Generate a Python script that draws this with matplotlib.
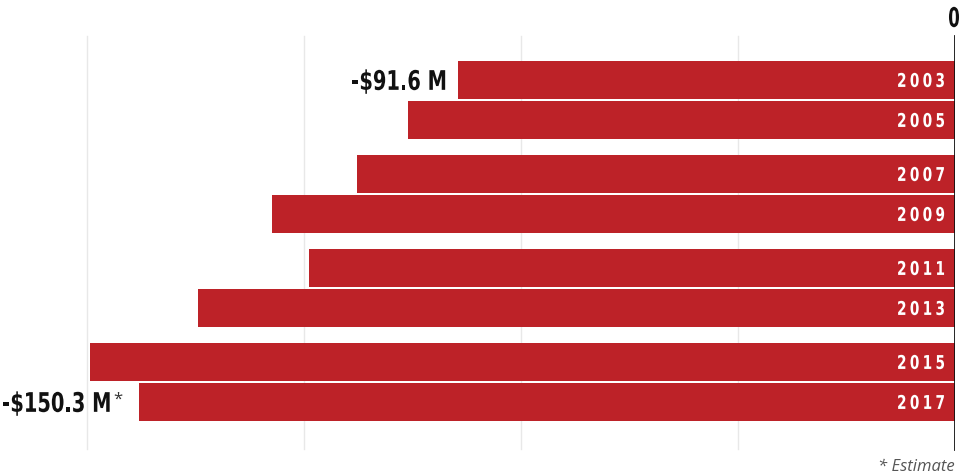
import numpy as np
import matplotlib.pyplot as plt
from matplotlib.textpath import TextPath
from matplotlib.patches import PathPatch
from matplotlib.font_manager import FontProperties
from matplotlib.transforms import Affine2D, IdentityTransform

years = ["2003", "2005", "2007", "2009", "2011", "2013", "2015", "2017"]
values = [-91.6, -100.8, -110.2, -125.9, -119.1, -139.5, -159.4, -150.3]
gridlines = [-40, -80, -120, -160]

red = "#bd2228"
W, H = 969, 477
BOLD = FontProperties(family="DejaVu Sans", weight="bold")


def advance(ch, size):
    bar = TextPath((0, 0), "|", size=size, prop=BOLD).get_extents().x1
    return TextPath((0, 0), ch + "|", size=size, prop=BOLD).get_extents().x1 - bar


def narrow_text(fig, x, y, s, size, color, ha="left", sx=0.72, track=0.0):
    """Draw condensed text at pixel (x, y from top), vertically centred on caps."""
    paths = []
    pen = 0.0
    for ch in s:
        if ch != " ":
            paths.append((TextPath((0, 0), ch, size=size, prop=BOLD), pen))
        pen += advance(ch, size) * sx + track
    pen -= track
    if ha == "right":
        x0 = x - pen
    elif ha == "center":
        x0 = x - pen / 2
    else:
        x0 = x
    cap = size * 0.729
    ybase = (H - y) - cap / 2
    for p, off in paths:
        tr = Affine2D().scale(sx, 1).translate(x0 + off, ybase) + IdentityTransform()
        fig.add_artist(PathPatch(p, transform=tr, facecolor=color, edgecolor="none", lw=0))
    return x0


fig = plt.figure(figsize=(W / 100, H / 100), dpi=100)
ax = fig.add_axes([0, 0, 955 / W, 1])
ax.set_xlim(-176, 0)
ax.set_ylim(H, 0)
ax.axis("off")

# bars come in pairs, a bigger gap between pairs
idx = np.arange(len(years))
ys = 81 + 94 * (idx // 2) + 40 * (idx % 2)

for g in gridlines:
    ax.plot([g, g], [37, 450], color="#e8e8e8", lw=1, zorder=0)
ax.plot([0, 0], [37, 450], color="#111111", lw=2, zorder=3)

ax.barh(ys, values, height=38, color=red, zorder=2)

px = 955 / 176  # pixels per million
for y, yr in zip(ys, years):
    narrow_text(fig, 945, y, yr, 19, "white", ha="right", sx=0.72, track=3.3)

narrow_text(fig, 955 + values[0] * px - 11, ys[0], "-$91.6 M", 27, "#111111", ha="right")
narrow_text(fig, 955 + values[-1] * px - 28, ys[-1], "-$150.3 M", 27, "#111111", ha="right")
fig.text((955 + values[-1] * px - 26) / W, 1 - (ys[-1] - 3) / H, "*", fontsize=12,
         family="Open Sans", ha="left", va="center", color="#333333")

narrow_text(fig, 954, 18, "0", 27, "#111111", ha="center", sx=0.62)

fig.text(955 / W, 1 - 467 / H, "* Estimate", fontsize=12, style="italic",
         family="Open Sans", ha="right", va="center", color="#555555")

fig.savefig("out.png", dpi=100)
